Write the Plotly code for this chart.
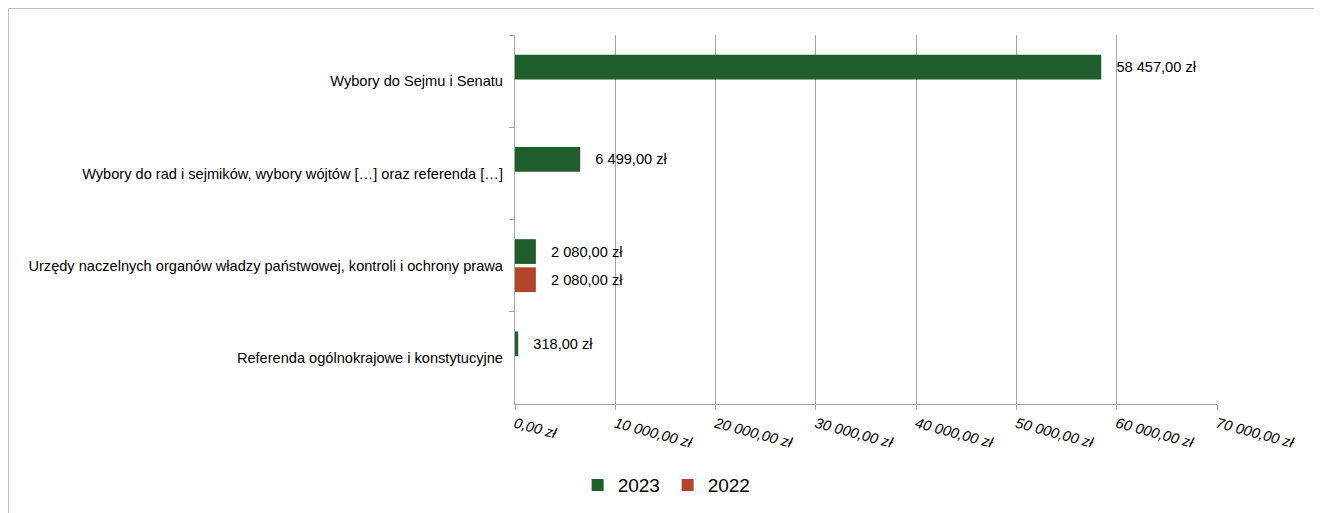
import plotly.graph_objects as go

# Kategorie (od góry) i wartości w zł
kategorie = [
    "Wybory do Sejmu i Senatu",
    "Wybory do rad i sejmików, wybory wójtów […] oraz referenda […]",
    "Urzędy naczelnych organów władzy państwowej, kontroli i ochrony prawa",
    "Referenda ogólnokrajowe i konstytucyjne",
]
wartosci_2023 = [58457.00, 6499.00, 2080.00, 318.00]
wartosci_2022 = [None, None, 2080.00, None]

ticki = [0, 10000, 20000, 30000, 40000, 50000, 60000, 70000]


def zl(v):
    # format polski: spacja jako separator tysięcy, przecinek dziesiętny
    if v is None:
        return ""
    s = f"{v:,.2f}".replace(",", " ").replace(".", ",")
    return s + " zł"


ZIELONY = "#1f5d2c"
CEGLA = "#b1442a"
SZARY = "#a6a6a6"
FONT = "Arial, Liberation Sans, sans-serif"
PAD = "\u00a0\u00a0\u00a0"
ROZM = 14.6

fig = go.Figure()
fig.add_trace(go.Bar(
    y=kategorie, x=wartosci_2023, orientation="h", name="2023",
    marker=dict(color=ZIELONY, line=dict(width=0)),
    text=[PAD + zl(v) for v in wartosci_2023], textposition="outside",
    textfont=dict(size=ROZM, color="black", family=FONT),
    constraintext="none", cliponaxis=False,
))
fig.add_trace(go.Bar(
    y=kategorie, x=wartosci_2022, orientation="h", name="2022",
    marker=dict(color=CEGLA, line=dict(width=0)),
    text=[PAD + zl(v) if v is not None else "" for v in wartosci_2022], textposition="outside",
    textfont=dict(size=ROZM, color="black", family=FONT),
    constraintext="none", cliponaxis=False,
))

# strona ma 8 px marginesu, rysunek sięga do prawej krawędzi okna
W, H = 1314, 505
L, R, T, B = 507, 105, 27, 109
pw, ph = W - L - R, H - T - B

def px_x(p):
    return (p - L) / pw

def px_y(p):
    return (H - B - p) / ph

# ramka wykresu (lewa i górna krawędź)
fig.add_shape(type="line", xref="paper", yref="paper",
              x0=px_x(0.5), x1=px_x(W), y0=px_y(0.5), y1=px_y(0.5),
              line=dict(color="#bfbfbf", width=1))
fig.add_shape(type="line", xref="paper", yref="paper",
              x0=px_x(0.5), x1=px_x(0.5), y0=px_y(0.5), y1=px_y(H),
              line=dict(color="#bfbfbf", width=1))

fig.update_xaxes(
    range=[0, 70000], tickvals=ticki, ticktext=[f"<i>{zl(t)}</i>" for t in ticki],
    tickangle=15, showgrid=True, gridcolor=SZARY, gridwidth=1,
    showline=True, linecolor=SZARY, linewidth=1, ticks="outside",
    ticklen=5, tickcolor=SZARY, zeroline=False,
    tickfont=dict(size=ROZM, color="black", family=FONT),
)
fig.update_yaxes(
    autorange="reversed", showgrid=False, showline=True, linecolor=SZARY,
    linewidth=1, ticks="outside", ticklen=5, tickcolor=SZARY,
    tickson="boundaries", zeroline=False, ticksuffix="\u00a0\u00a0",
    tickfont=dict(size=ROZM, color="black", family=FONT),
)

fig.update_layout(
    width=W, height=H,
    margin=dict(l=L, r=R, t=T, b=B),
    barmode="group", bargap=0.39, bargroupgap=0.12,
    plot_bgcolor="white", paper_bgcolor="white",
    font=dict(family=FONT, color="black"),
    legend=dict(orientation="h", xref="container", yref="container",
                x=0.502, xanchor="center", y=0.055, yanchor="middle",
                font=dict(size=19, family=FONT, color="black"),
                itemwidth=30, entrywidth=45, traceorder="normal"),
)

fig.write_html("out.html")
